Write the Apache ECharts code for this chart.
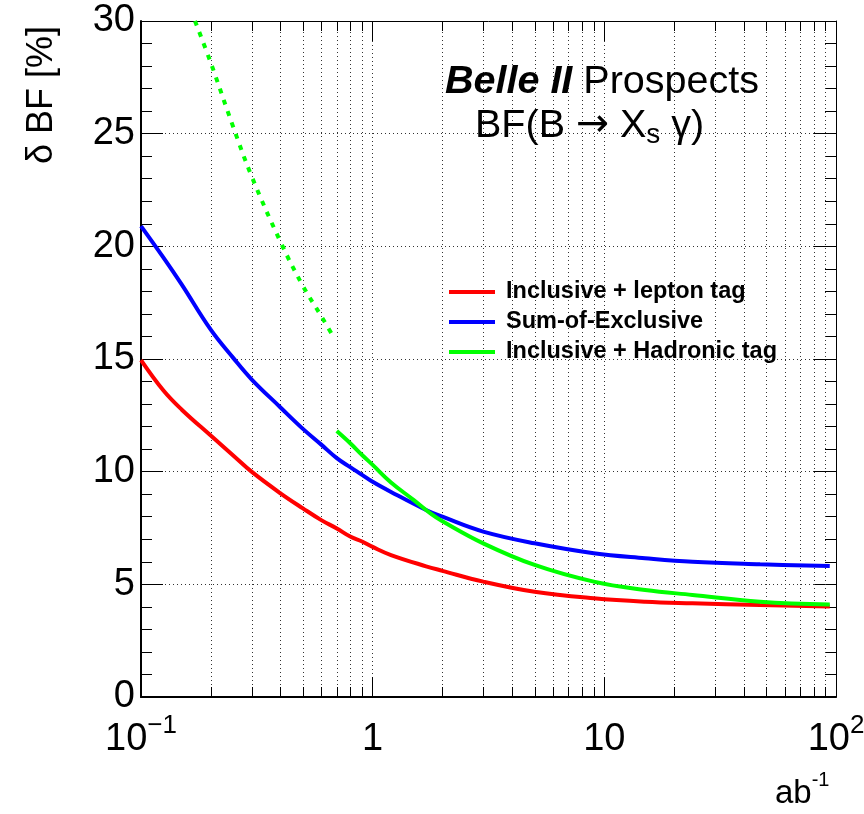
<!DOCTYPE html>
<html>
<head>
<meta charset="utf-8">
<script src="https://cdn.jsdelivr.net/npm/echarts@6/dist/echarts.min.js"></script>
<style>
  html, body { margin: 0; padding: 0; background: #fff; }
  #chart-container { width: 864px; height: 814px; }
</style>
</head>
<body>
<div id="chart-container"></div>
<script>
// luminosity points (ab^-1) for the lepton-tag and sum-of-exclusive curves
const lumi = [0.1, 0.125, 0.15, 0.2, 0.25, 0.3, 0.4, 0.5, 0.6, 0.7, 0.8, 0.9, 1.0, 1.2, 1.7, 2, 3, 5, 9, 15, 24, 47, 94];
const lepTag = [14.95, 13.6, 12.75, 11.6, 10.72, 10.0, 9.04, 8.37, 7.85, 7.48, 7.12, 6.9, 6.66, 6.3, 5.8, 5.6, 5.12, 4.67, 4.38, 4.23, 4.16, 4.08, 4.02];
const sumExcl = [20.9, 19.5, 18.3, 16.3, 15.05, 14.1, 12.85, 11.9, 11.2, 10.6, 10.2, 9.86, 9.55, 9.1, 8.3, 8.0, 7.34, 6.82, 6.38, 6.16, 6.0, 5.89, 5.81];

// hadronic tag: dotted part at low luminosity, solid part above
const hadLumiLow = [0.171, 0.2, 0.25, 0.3, 0.4, 0.5, 0.6, 0.68];
const hadTagLow = [30, 28.15, 25.3, 23.12, 20.2, 18.24, 16.9, 15.95];
const hadLumi = [0.7, 0.8, 0.9, 1.0, 1.2, 1.5, 1.8, 2, 3, 5, 9, 15, 24, 47, 94];
const hadTag = [11.8, 11.26, 10.74, 10.3, 9.52, 8.75, 8.1, 7.8, 6.82, 5.86, 5.12, 4.75, 4.53, 4.23, 4.11];

// axis ticks
const xMajor = [0.1, 1, 10, 100];
const xMajorText = ['{m|10}{sup|\u22121}', '{m|1}', '{m|10}', '{m|10}{sup|2}'];
const xMinor = [0.2, 0.3, 0.4, 0.5, 0.6, 0.7, 0.8, 0.9, 2, 3, 4, 5, 6, 7, 8, 9, 20, 30, 40, 50, 60, 70, 80, 90];
const yMin = 0, yMax = 30, yStep = 5;

const legendNames = ['Inclusive + lepton tag', 'Sum-of-Exclusive', 'Inclusive + Hadronic tag'];

const FONT = '"Liberation Sans", Arial, Helvetica, sans-serif';
const pairs = (xs, ys) => xs.map((x, i) => [x, ys[i]]);
const dotted = [1, 3];

const xLabel = (v) => {
  const i = xMajor.findIndex((m) => Math.abs(Math.log10(m) - Math.log10(v)) < 1e-6);
  return i >= 0 ? xMajorText[i] : '';
};

const txt = (size, extra) => Object.assign({ fontFamily: FONT, fontSize: size, fontWeight: 'normal', color: '#000' }, extra || {});

const option = {
  animation: false,
  backgroundColor: '#fff',
  textStyle: { fontFamily: FONT },
  grid: {
    left: 141, right: 28, top: 21, bottom: 117,
    containLabel: false,
    outerBoundsMode: 'none'
  },
  title: [
    {
      left: 445, top: 62, padding: 0,
      text: '{bi|Belle II}{r| Prospects}',
      textStyle: {
        fontWeight: 'normal',
        rich: {
          bi: txt(39.5, { fontWeight: 'bold', fontStyle: 'italic' }),
          r: txt(39.5)
        }
      }
    },
    {
      left: 475, top: 103, padding: 0,
      text: '{t|BF(B }{a|\u2192}{t| X}{s|s}{t| \u03b3)}',
      textStyle: {
        fontWeight: 'normal',
        rich: {
          t: txt(39.5, { lineHeight: 46 }),
          a: txt(39.5, { fontFamily: '"DejaVu Sans", sans-serif', lineHeight: 46 }),
          s: txt(28, { lineHeight: 20, verticalAlign: 'bottom' })
        }
      }
    },
    {
      left: 775, top: 770, padding: 0,
      text: '{m|ab}{sup|-1}',
      textStyle: {
        fontWeight: 'normal',
        rich: {
          m: txt(33, { lineHeight: 40, verticalAlign: 'bottom' }),
          sup: txt(20, { lineHeight: 20, verticalAlign: 'top' })
        }
      }
    }
  ],
  graphic: [
    {
      type: 'text',
      x: 42, y: 95,
      rotation: Math.PI / 2,
      style: {
        text: '\u03b4 BF [%]',
        font: '36px ' + FONT,
        fill: '#000',
        align: 'center',
        textAlign: 'center',
        verticalAlign: 'middle',
        textVerticalAlign: 'middle'
      }
    }
  ],
  legend: {
    data: legendNames,
    orient: 'vertical',
    left: 449, top: 280,
    padding: 0,
    icon: 'rect',
    itemWidth: 46, itemHeight: 4,
    itemGap: 6,
    textStyle: { fontFamily: FONT, fontSize: 23.5, fontWeight: 'bold', color: '#000', padding: [0, 0, 0, 6] }
  },
  xAxis: [
    {
      type: 'log', logBase: 10, min: 0.1, max: 100,
      position: 'bottom',
      axisLine: { show: true, onZero: false, lineStyle: { color: '#000', width: 2 } },
      axisTick: { show: true, inside: true, length: 20, lineStyle: { color: '#000', width: 1 } },
      axisLabel: {
        show: true, margin: 16, showMinLabel: true, showMaxLabel: true, hideOverlap: false,
        formatter: xLabel,
        rich: {
          m: txt(38, { lineHeight: 46, verticalAlign: 'bottom' }),
          sup: txt(26, { lineHeight: 26, verticalAlign: 'top' })
        }
      },
      splitLine: { show: true, lineStyle: { color: '#333', width: 1, type: dotted } }
    },
    {
      type: 'log', logBase: 10, min: 0.1, max: 100,
      position: 'top',
      axisLine: { show: true, onZero: false, lineStyle: { color: '#000', width: 1 } },
      axisTick: { show: true, inside: true, length: 20, lineStyle: { color: '#000', width: 1 } },
      axisLabel: { show: false },
      splitLine: { show: false }
    }
  ],
  yAxis: [
    {
      type: 'value', min: yMin, max: yMax, interval: yStep,
      position: 'left',
      axisLine: { show: true, onZero: false, lineStyle: { color: '#000', width: 2 } },
      axisTick: { show: true, inside: true, length: 22, lineStyle: { color: '#000', width: 1 } },
      minorTick: { show: true, splitNumber: 5, length: 11, lineStyle: { color: '#000', width: 1 } },
      axisLabel: { show: true, margin: 6, fontFamily: FONT, fontSize: 38, color: '#000', showMinLabel: true, showMaxLabel: true },
      splitLine: { show: true, lineStyle: { color: '#333', width: 1, type: dotted } }
    },
    {
      type: 'value', min: yMin, max: yMax, interval: yStep,
      position: 'right',
      axisLine: { show: true, onZero: false, lineStyle: { color: '#000', width: 1 } },
      axisTick: { show: true, inside: true, length: 22, lineStyle: { color: '#000', width: 1 } },
      minorTick: { show: true, splitNumber: 5, length: 11, lineStyle: { color: '#000', width: 1 } },
      axisLabel: { show: false },
      splitLine: { show: false }
    }
  ],
  series: [
    {
      // minor log ticks + dotted grid lines at 2..9 of each decade
      name: 'minor',
      type: 'custom',
      silent: true,
      z: 1,
      data: xMinor.map((v) => [v, yMin]),
      renderItem: (params, api) => {
        const x = api.value(0);
        const b = api.coord([x, yMin]);
        const t = api.coord([x, yMax]);
        const px = Math.round(b[0]) + 0.5;
        return {
          type: 'group',
          children: [
            { type: 'line', shape: { x1: px, y1: b[1], x2: px, y2: t[1] }, style: { stroke: '#333', lineWidth: 1, lineDash: dotted } },
            { type: 'line', shape: { x1: px, y1: b[1], x2: px, y2: b[1] - 10 }, style: { stroke: '#000', lineWidth: 1 } },
            { type: 'line', shape: { x1: px, y1: t[1], x2: px, y2: t[1] + 10 }, style: { stroke: '#000', lineWidth: 1 } }
          ]
        };
      }
    },
    {
      name: legendNames[0],
      type: 'line', z: 3,
      data: pairs(lumi, lepTag),
      showSymbol: false, symbol: 'none', smooth: 0.4,
      color: '#ff0000',
      lineStyle: { color: '#ff0000', width: 4 }
    },
    {
      name: legendNames[1],
      type: 'line', z: 3,
      data: pairs(lumi, sumExcl),
      showSymbol: false, symbol: 'none', smooth: 0.4,
      color: '#0000ff',
      lineStyle: { color: '#0000ff', width: 4 }
    },
    {
      name: legendNames[2],
      type: 'line', z: 3,
      data: pairs(hadLumi, hadTag),
      showSymbol: false, symbol: 'none', smooth: 0.4,
      color: '#00ff00',
      lineStyle: { color: '#00ff00', width: 4 }
    },
    {
      name: 'Hadronic tag (low lumi)',
      type: 'line', z: 3,
      data: pairs(hadLumiLow, hadTagLow),
      showSymbol: false, symbol: 'none', smooth: 0.4,
      color: '#00ff00',
      lineStyle: { color: '#00ff00', width: 4, type: [5, 7] }
    }
  ]
};

const dom = document.getElementById('chart-container');
const myChart = echarts.init(dom, null, { renderer: 'canvas' });
myChart.setOption(option);
window.addEventListener('resize', () => myChart.resize());
</script>
</body>
</html>
